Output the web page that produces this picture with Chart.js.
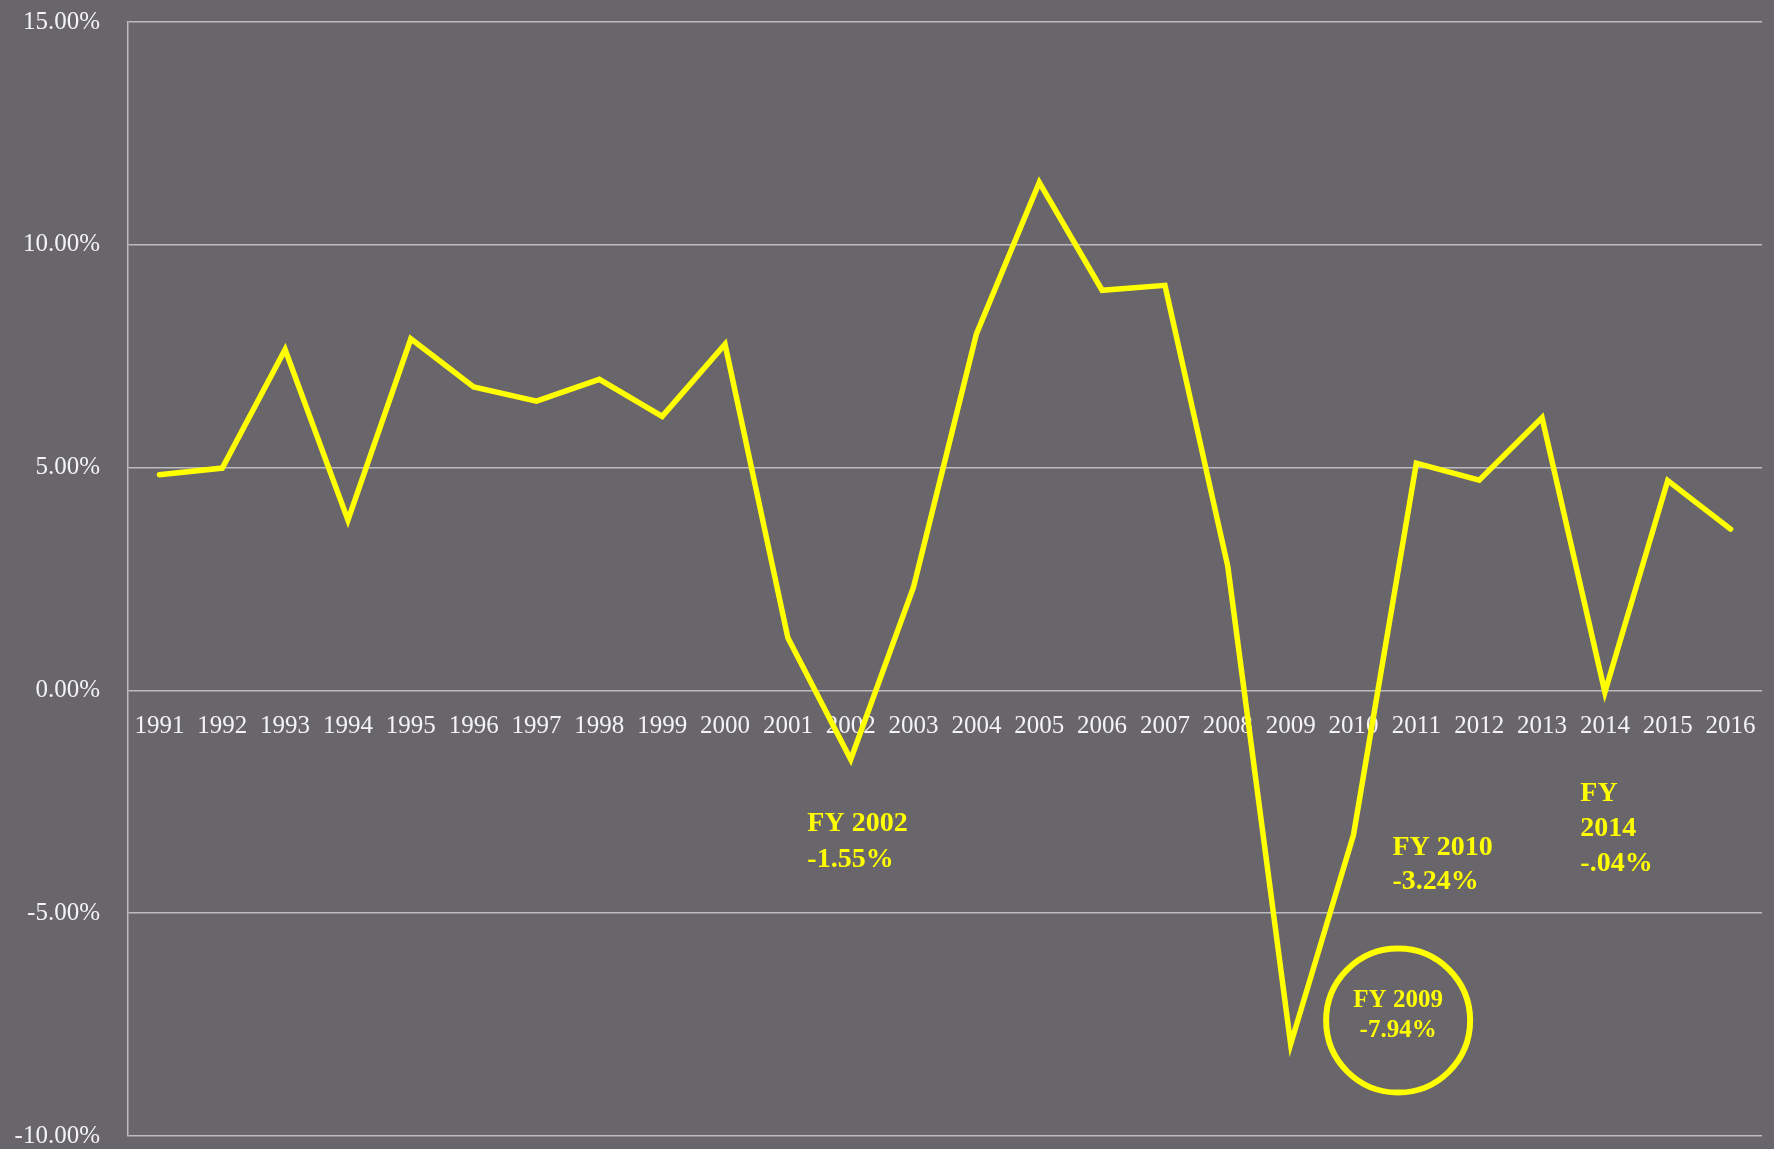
<!DOCTYPE html>
<html>
<head>
<meta charset="utf-8">
<script src="https://cdn.jsdelivr.net/npm/chart.js@4/dist/chart.umd.min.js"></script>
<style>
  html, body { margin: 0; padding: 0; background: #68656b; }
  #wrap { width: 1774px; height: 1149px; }
</style>
</head>
<body>
<div id="wrap"><canvas id="growth"></canvas></div>
<script>
// fiscal years and annual growth (%)
var years = ['1991', '1992', '1993', '1994', '1995', '1996', '1997', '1998', '1999', '2000',
             '2001', '2002', '2003', '2004', '2005', '2006', '2007', '2008', '2009', '2010',
             '2011', '2012', '2013', '2014', '2015', '2016'];
var growth = [4.84, 4.99, 7.65, 3.82, 7.89, 6.81, 6.49, 6.98, 6.15, 7.77,
              1.18, -1.55, 2.32, 8.00, 11.40, 8.98, 9.09, 2.78, -7.94, -3.24,
              5.10, 4.72, 6.12, -0.04, 4.71, 3.62];
var yTicks = [-10, -5, 0, 5, 10, 15];

// years that get a callout
var calloutYears = ['2002', '2010', '2014', '2009'];

var serif = '"Liberation Serif", "Times New Roman", serif';
var yellow = '#ffff00';

function pct(v) {
    // -0.04 -> "-.04%"
    return v.toFixed(2).replace(/^(-?)0\./, '$1.') + '%';
}

function calloutLines(year) {
    var v = growth[years.indexOf(year)];
    if (year === '2014') return ['FY', year, pct(v)];
    return ['FY ' + year, pct(v)];
}

// where each callout sits, in axis units (category index, percent)
var calloutPlace = {
    '2002': { x: 10.31, y: -3.00, gap: 36, align: 'left' },
    '2010': { x: 19.62, y: -3.54, gap: 34, align: 'left' },
    '2014': { x: 22.61, y: -2.33, gap: 35, align: 'left' },
    '2009': { x: 19.71, y: -6.96, gap: 30, align: 'center', ring: { y: -7.41, r: 72 } }
};

var callouts = {
    id: 'callouts',
    afterDatasetsDraw: function (chart) {
        var ctx = chart.ctx;
        var xs = chart.scales.x, ys = chart.scales.y;
        ctx.save();
        calloutYears.forEach(function (year) {
            var p = calloutPlace[year];
            var x = xs.getPixelForValue(p.x);
            var y = ys.getPixelForValue(p.y);
            if (p.ring) {
                ctx.beginPath();
                ctx.arc(x, ys.getPixelForValue(p.ring.y), p.ring.r, 0, Math.PI * 2);
                ctx.lineWidth = 6;
                ctx.strokeStyle = yellow;
                ctx.stroke();
            }
            ctx.fillStyle = yellow;
            ctx.font = 'bold ' + (p.ring ? 25 : 28) + 'px ' + serif;
            ctx.textAlign = p.align;
            ctx.textBaseline = 'middle';
            calloutLines(year).forEach(function (t, k) {
                ctx.fillText(t, x, y + k * p.gap);
            });
        });
        ctx.restore();
    }
};

var ctx = document.getElementById('growth').getContext('2d');
var chart = new Chart(ctx, {
    type: 'line',
    data: {
        labels: years,
        datasets: [{
            label: 'Growth',
            data: growth,
            borderColor: yellow,
            borderWidth: 5.5,
            borderCapStyle: 'round',
            borderJoinStyle: 'miter',
            pointRadius: 0,
            tension: 0,
            fill: false
        }]
    },
    options: {
        responsive: true,
        maintainAspectRatio: false,
        animation: false,
        layout: { padding: { top: 22, right: 12, bottom: 13, left: 0 } },
        plugins: {
            legend: { display: false },
            tooltip: { enabled: false }
        },
        scales: {
            x: {
                position: { y: 0 },
                offset: true,
                grid: { display: false, drawTicks: false },
                border: { display: false },
                ticks: {
                    color: '#f4f4f4',
                    font: { family: serif, size: 25 },
                    padding: 21,
                    maxRotation: 0,
                    autoSkip: false
                },
                afterFit: function (s) { s.paddingLeft = 0; s.paddingRight = 0; }
            },
            y: {
                min: -10,
                max: 15,
                afterBuildTicks: function (s) {
                    s.ticks = yTicks.map(function (v) { return { value: v }; });
                },
                grid: { color: '#bdbcbf', lineWidth: 1.5, drawTicks: false },
                border: { display: true, color: '#bdbcbf', width: 1.5 },
                ticks: {
                    color: '#f4f4f4',
                    font: { family: serif, size: 25 },
                    padding: 28,
                    callback: function (v) { return Number(v).toFixed(2) + '%'; }
                },
                afterFit: function (s) {
                    s.width = 128;
                    s.paddingTop = 0;
                    s.paddingBottom = 0;
                }
            }
        }
    },
    plugins: [callouts]
});
</script>
</body>
</html>
